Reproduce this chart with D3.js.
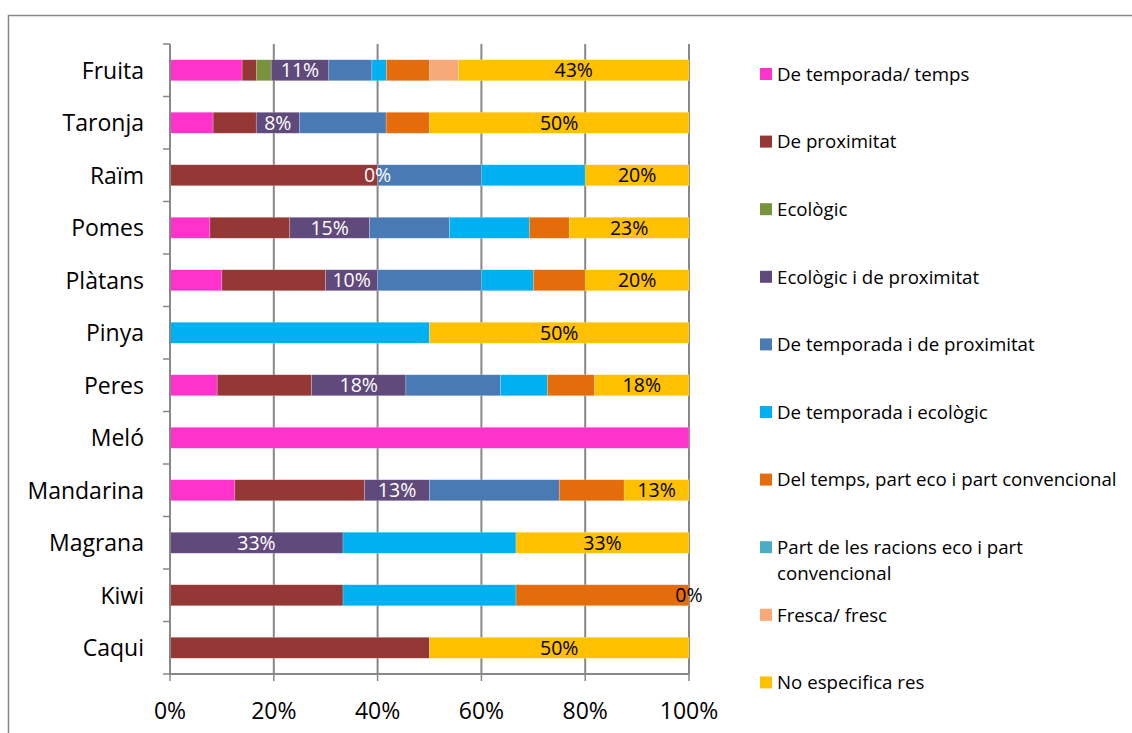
<!DOCTYPE html>
<html>
<head>
<meta charset="utf-8">
<script src="https://cdn.jsdelivr.net/npm/d3@7"></script>
<style>
body { margin:0; background:#fff; }
svg text { font-family:"Open Sans", sans-serif; fill:#000; }
</style>
</head>
<body>
<div id="chart"><svg></svg></div>
<script>
var fruits = ["Fruita","Taronja","Raïm","Pomes","Plàtans","Pinya","Peres","Meló","Mandarina","Magrana","Kiwi","Caqui"]

var seriesNames = ["De temporada/ temps","De proximitat","Ecològic","Ecològic i de proximitat",
    "De temporada i de proximitat","De temporada i ecològic","Del temps, part eco i part convencional",
    "Part de les racions eco i part convencional","Fresca/ fresc","No especifica res"]

var colors = ["#FF33CC","#953735","#77933C","#604A7B","#4A7AB5","#00B0F0","#E46C0A","#4BACC6","#F7A978","#FFC000"]

// share of answers per fruit (%), one array per series, same order as fruits
var temporada     = [13.9, 8.3, 0, 7.7, 10, 0, 9.1, 100, 12.5, 0, 0, 0]
var proximitat    = [2.8, 8.3, 40, 15.4, 20, 0, 18.2, 0, 25, 0, 33.3, 50]
var ecologic      = [2.8, 0, 0, 0, 0, 0, 0, 0, 0, 0, 0, 0]
var ecoProx       = [11.1, 8.3, 0, 15.4, 10, 0, 18.2, 0, 12.5, 33.3, 0, 0]
var tempProx      = [8.3, 16.7, 20, 15.4, 20, 0, 18.2, 0, 25, 0, 0, 0]
var tempEco       = [2.8, 0, 20, 15.4, 10, 50, 9.1, 0, 0, 33.3, 33.3, 0]
var delTemps      = [8.3, 8.3, 0, 7.7, 10, 0, 9.1, 0, 12.5, 0, 33.3, 0]
var partRacions   = [0, 0, 0, 0, 0, 0, 0, 0, 0, 0, 0, 0]
var fresca        = [5.6, 0, 0, 0, 0, 0, 0, 0, 0, 0, 0, 0]
var noEspecifica  = [44.4, 50, 20, 23.1, 20, 50, 18.2, 0, 12.5, 33.3, 0, 50]

// data labels shown on the chart (null = no label)
var ecoProxLabels = ["11%","8%","0%","15%","10%",null,"18%",null,"13%","33%",null,null]
var noEspLabels   = ["43%","50%","20%","23%","20%","50%","18%",null,"13%","33%","0%","50%"]

var xTicks = [0, 0.2, 0.4, 0.6, 0.8, 1]

var allSeries = [temporada,proximitat,ecologic,ecoProx,tempProx,tempEco,delTemps,partRacions,fresca,noEspecifica]

var screen = {width:1132,height:733}
var margins = {left:170,top:44}
var graph = {width:519,height:630}
var gridColor = "#878787"

var svg = d3.select("#chart svg")
    .attr("width",screen.width)
    .attr("height",screen.height)

// outer chart border
svg.append("rect")
    .attr("x",8.5)
    .attr("y",15.5)
    .attr("width",1300)
    .attr("height",900)
    .attr("fill","none")
    .attr("stroke",gridColor)
    .attr("stroke-width",1.5)

var table = fruits.map(function(f,i)
{
    var row = {fruit:f}
    seriesNames.forEach(function(s,j) { row[s] = allSeries[j][i] })
    return row
})

var stacked = d3.stack()
    .keys(seriesNames)
    .offset(d3.stackOffsetExpand)(table)

var xScale = d3.scaleLinear()
    .domain([0,1])
    .range([margins.left,margins.left+graph.width])

var yScale = d3.scaleBand()
    .domain(fruits)
    .range([margins.top,margins.top+graph.height])
    .paddingInner(0.6)
    .paddingOuter(0.3)

var step = yScale.step()

// vertical gridlines
svg.append("g")
    .selectAll("line")
    .data(xTicks.slice(1))
    .enter()
    .append("line")
    .attr("x1",function(d){ return xScale(d) })
    .attr("x2",function(d){ return xScale(d) })
    .attr("y1",margins.top)
    .attr("y2",margins.top+graph.height)
    .attr("stroke",gridColor)
    .attr("stroke-width",2)

// bars
svg.append("g")
    .selectAll("g")
    .data(stacked)
    .enter()
    .append("g")
    .attr("fill",function(d,i){ return colors[i] })
    .selectAll("rect")
    .data(function(d){ return d })
    .enter()
    .append("rect")
    .attr("x",function(d){ return xScale(d[0]) })
    .attr("width",function(d){ return xScale(d[1])-xScale(d[0]) })
    .attr("y",function(d){ return yScale(d.data.fruit) })
    .attr("height",yScale.bandwidth())
    .attr("stroke","rgba(255,255,255,0.35)")
    .attr("stroke-width",function(d){ return d[1]-d[0] > 0 ? 0.6 : 0 })

// data labels
var drawLabels = function(seriesIndex,labels,color)
{
    svg.append("g")
    .selectAll("text")
    .data(stacked[seriesIndex].filter(function(d,i){ return labels[i] != null }))
    .enter()
    .append("text")
    .text(function(d){ return labels[fruits.indexOf(d.data.fruit)] })
    .attr("x",function(d){ return xScale((d[0]+d[1])/2) })
    .attr("y",function(d){ return yScale(d.data.fruit)+yScale.bandwidth()/2 })
    .attr("dy","0.36em")
    .attr("text-anchor","middle")
    .style("font-size","19.5px")
    .style("fill",color)
}
drawLabels(3,ecoProxLabels,"#ffffff")
drawLabels(9,noEspLabels,"#000000")

// axes
var axisG = svg.append("g")
axisG.append("line")
    .attr("x1",margins.left).attr("x2",margins.left)
    .attr("y1",margins.top).attr("y2",margins.top+graph.height)
    .attr("stroke",gridColor).attr("stroke-width",2)
axisG.append("line")
    .attr("x1",margins.left).attr("x2",margins.left+graph.width)
    .attr("y1",margins.top+graph.height).attr("y2",margins.top+graph.height)
    .attr("stroke",gridColor).attr("stroke-width",2)

axisG.selectAll(".ytick")
    .data(d3.range(fruits.length+1))
    .enter()
    .append("line")
    .attr("x1",margins.left-7).attr("x2",margins.left)
    .attr("y1",function(i){ return margins.top+i*step })
    .attr("y2",function(i){ return margins.top+i*step })
    .attr("stroke",gridColor).attr("stroke-width",1.5)

axisG.selectAll(".xtick")
    .data(xTicks)
    .enter()
    .append("line")
    .attr("x1",function(d){ return xScale(d) })
    .attr("x2",function(d){ return xScale(d) })
    .attr("y1",margins.top+graph.height)
    .attr("y2",margins.top+graph.height+7)
    .attr("stroke",gridColor).attr("stroke-width",1.5)

svg.append("g")
    .selectAll("text")
    .data(xTicks)
    .enter()
    .append("text")
    .text(d3.format(".0%"))
    .attr("x",function(d){ return xScale(d) })
    .attr("y",711)
    .attr("dy","0.36em")
    .attr("text-anchor","middle")
    .style("font-size","23px")

svg.append("g")
    .selectAll("text")
    .data(fruits)
    .enter()
    .append("text")
    .text(function(d){ return d })
    .attr("x",144)
    .attr("y",function(d){ return yScale(d)+yScale.bandwidth()/2 })
    .attr("dy","0.36em")
    .attr("text-anchor","end")
    .style("font-size","23px")

// legend
var legend = svg.append("g")
var maxLegendWidth = 345
seriesNames.forEach(function(name,i)
{
    var cy = 74+i*67.6
    legend.append("rect")
        .attr("x",760)
        .attr("y",cy-6)
        .attr("width",12)
        .attr("height",12)
        .attr("fill",colors[i])
    var t = legend.append("text")
        .attr("x",777)
        .attr("y",cy)
        .attr("dy","0.36em")
        .style("font-size","18.7px")
    var words = name.split(" ")
    var line = []
    var tspan = t.append("tspan").attr("x",777)
    words.forEach(function(w)
    {
        line.push(w)
        tspan.text(line.join(" "))
        if (tspan.node().getComputedTextLength() > maxLegendWidth && line.length > 1)
        {
            line.pop()
            tspan.text(line.join(" "))
            line = [w]
            tspan = t.append("tspan").attr("x",777).attr("dy","26px").text(w)
        }
    })
})
</script>
</body>
</html>
